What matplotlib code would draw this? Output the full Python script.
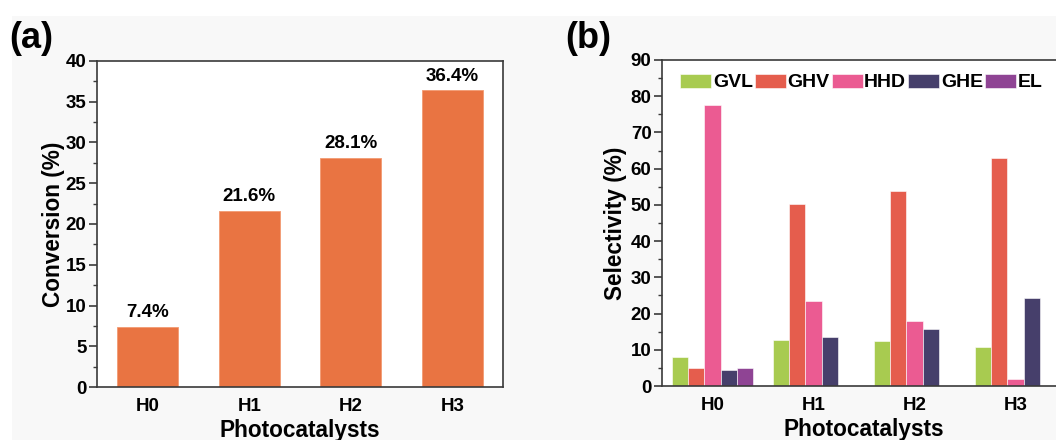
import numpy as np
import matplotlib
matplotlib.use("Agg")
import matplotlib.pyplot as plt
from matplotlib.patches import Rectangle
from matplotlib.ticker import MultipleLocator

plt.rcParams['font.family'] = ['Liberation Sans', 'DejaVu Sans']
plt.rcParams['font.weight'] = 'bold'

# Data
catalysts = ["H0", "H1", "H2", "H3"]
conversion = [7.4, 21.6, 28.1, 36.4]

products = ["GVL", "GHV", "HHD", "GHE", "EL"]
sel_gvl = [7.9, 12.8, 12.3, 10.9]
sel_ghv = [5.0, 50.3, 53.8, 62.9]
sel_hhd = [77.7, 23.5, 18.0, 1.8]
sel_ghe = [4.3, 13.4, 15.8, 24.4]
sel_el = [5.0, 0.0, 0.0, 0.0]

prod_colors = ["#A8CB50", "#E55D4D", "#EB5B92", "#463F6B", "#8F4494"]
conv_color = "#E97442"

W, H = 1056, 440
fig = plt.figure(figsize=(W / 100, H / 100), dpi=100)
fig.patch.set_facecolor("white")
fig.patches.append(Rectangle((12 / W, 0), 1 - 12 / W, 1 - 16 / H,
                             transform=fig.transFigure, facecolor="#f8f8f8",
                             edgecolor="none", zorder=-10))

spine_color = "#3a3a3a"


def style_axes(ax, ymax, major, minor):
    ax.set_facecolor("white")
    for s in ax.spines.values():
        s.set_linewidth(1.2)
        s.set_color(spine_color)
    ax.set_ylim(0, ymax)
    ax.set_xlim(-0.5, 3.5)
    ax.yaxis.set_major_locator(MultipleLocator(major))
    ax.yaxis.set_minor_locator(MultipleLocator(minor))
    ax.tick_params(axis="y", which="major", direction="out", length=6, width=1.2,
                   color=spine_color, labelsize=13.5, pad=1.5)
    ax.tick_params(axis="y", which="minor", direction="out", length=3, width=1.0,
                   color=spine_color)
    ax.tick_params(axis="x", which="both", length=0, labelsize=13.5, pad=8)
    ax.set_xticks(range(len(catalysts)))
    ax.set_xticklabels(catalysts)
    for lab in ax.get_xticklabels() + ax.get_yticklabels():
        lab.set_fontweight("bold")
    ax.set_xlabel("Photocatalysts", fontsize=16.3, fontweight="bold", labelpad=2.5)


# Panel (a): conversion
ax1 = fig.add_axes([97 / W, 1 - 387 / H, 406 / W, 326 / H])
style_axes(ax1, 40, 5, 2.5)
x = np.arange(len(catalysts))
ax1.bar(x, conversion, width=0.6, color=conv_color, edgecolor="#F29A72",
        linewidth=0.6, zorder=2)
for xi, v in zip(x, conversion):
    ax1.text(xi, v + 0.7, f"{v}%", ha="center", va="bottom", fontsize=13.5,
             fontweight="bold")
ax1.set_ylabel("Conversion (%)", fontsize=16.3, fontweight="bold", labelpad=0.5)

# Panel (b): selectivity
ax2 = fig.add_axes([662 / W, 1 - 386 / H, 404 / W, 326 / H])
style_axes(ax2, 90, 10, 5)
series = [sel_gvl, sel_ghv, sel_hhd, sel_ghe, sel_el]
bw = 0.16
for i, (name, vals, col) in enumerate(zip(products, series, prod_colors)):
    ax2.bar(x + (i - 2) * bw, vals, width=bw, color=col, edgecolor="white",
            linewidth=0.4, label=name, zorder=2)
ax2.set_ylabel("Selectivity (%)", fontsize=16.3, fontweight="bold", labelpad=3)
leg = ax2.legend(loc="upper left", bbox_to_anchor=(0.045, 0.958), ncol=5,
                 frameon=False, fontsize=14, handlelength=1.6, handleheight=0.72,
                 handletextpad=0.08, columnspacing=0.1, borderpad=0,
                 borderaxespad=0)
for t in leg.get_texts():
    t.set_fontweight("bold")

fig.text(9 / W, 1 - 48 / H, "(a)", fontsize=26, fontweight="bold", ha="left",
         va="baseline")
fig.text(565 / W, 1 - 48 / H, "(b)", fontsize=26, fontweight="bold", ha="left",
         va="baseline")

fig.savefig("out.png", dpi=100, facecolor=fig.get_facecolor())
